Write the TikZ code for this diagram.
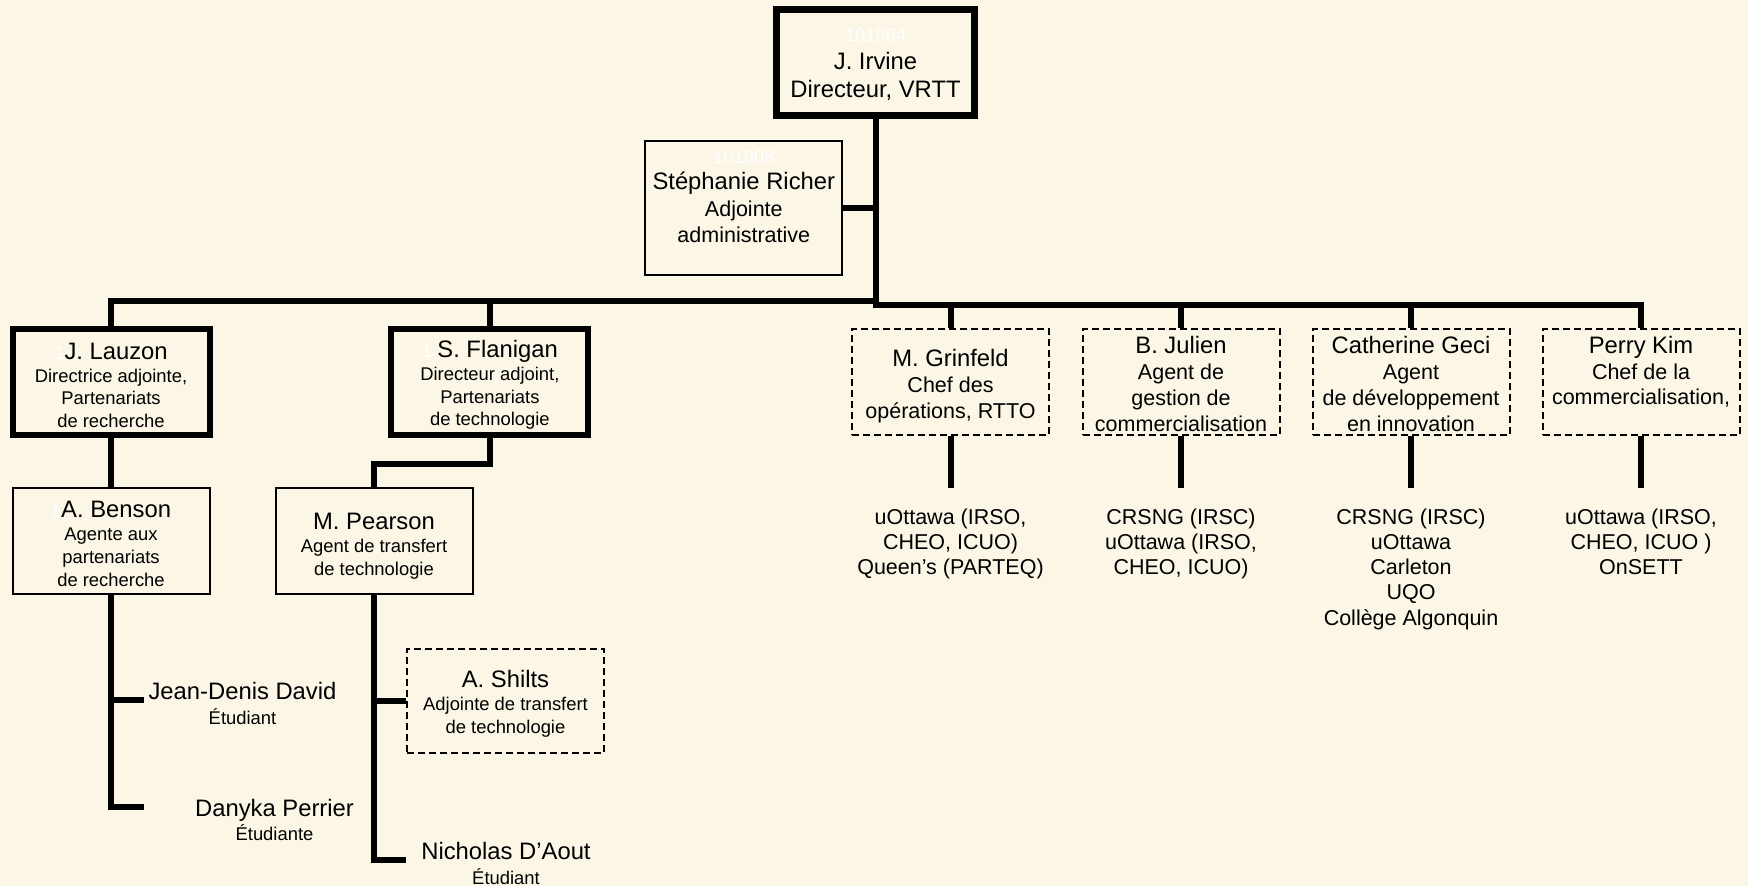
\documentclass[tikz,border=0pt]{standalone}
\usepackage{fontspec}
\setmainfont{Liberation Sans}
\usetikzlibrary{positioning}

\definecolor{paper}{RGB}{251,246,229}
\newcommand\fname{\fontsize{11.9pt}{14pt}\selectfont}
\newcommand\fsmall{\fontsize{9.2pt}{11pt}\selectfont}
\newcommand\padabove[1]{\rule{0pt}{#1}}
\newcommand\padbelow[1]{\rule[-#1]{0pt}{#1}}

\begin{document}
\begin{tikzpicture}[x=0.5pt, y=-0.5pt,
    box/.style={draw, line width=1pt, minimum width=98.5pt, minimum height=53pt, inner sep=0pt, align=center},
    lead/.style={box, line width=3pt},
    open/.style={box, dash pattern=on 3.5pt off 2pt},
    link/.style={line width=3pt},
    note/.style={inner sep=0pt, align=center}
]
    \fill[paper] (0,0) rectangle (1748,886);

    % direction
    \node[lead, line width=3.3pt, minimum width=98.8pt, minimum height=53.2pt, font=\fontsize{9.2pt}{14pt}\selectfont] (irvine) at (875.5,62.5)
        {\padabove{8.8pt}{\color{white}101864}\\ {\fname J. Irvine}\\ {\fname Directeur, VRTT}};
    \node[box, minimum height=67pt, font=\fontsize{10.75pt}{13.15pt}\selectfont] (richer) at (743.8,208)
        {\padabove{7.6pt}{\fsmall\color{white}101908}\\ {\fname Stéphanie Richer}\\ Adjointe\\ administrative\padbelow{12.7pt}};

    % partenariats
    \node[lead, font=\fontsize{9.2pt}{11.35pt}\selectfont] (lauzon) at (111,381.8)
        {\padabove{11.8pt}{\color{white}1}{\fname J. Lauzon}\\ Directrice adjointe,\\ Partenariats\\ de recherche};
    \node[lead, font=\fontsize{9.2pt}{11.35pt}\selectfont] (flanigan) at (489.9,381.8)
        {\padabove{11.8pt}{\color{white}1} {\fname S. Flanigan}\\ Directeur adjoint,\\ Partenariats\\ de technologie};
    \node[box, font=\fontsize{9.2pt}{11.4pt}\selectfont] (benson) at (111,541.3)
        {\padabove{10.7pt}{\color{white}1}{\fname A. Benson}\\ Agente aux\\ partenariats\\ de recherche};
    \node[box, font=\fontsize{9.2pt}{11.6pt}\selectfont] (pearson) at (374,541.3)
        {\padabove{13pt}{\fname M. Pearson}\\ Agent de transfert\\ de technologie};
    \node[open, minimum height=52pt, font=\fontsize{9.2pt}{11.5pt}\selectfont] (shilts) at (505.5,700.9)
        {\padabove{11.8pt}{\fname A. Shilts}\\ Adjointe de transfert\\ de technologie};

    % commercialisation
    \node[open, font=\fontsize{10.75pt}{12.9pt}\selectfont] (grinfeld) at (950.5,382)
        {\padabove{13pt}{\fname M. Grinfeld}\\ Chef des\\ opérations, RTTO};
    \node[open, font=\fontsize{10.75pt}{12.9pt}\selectfont] (julien) at (1181,382)
        {\padabove{10.7pt}{\fname B. Julien}\\ Agent de\\ gestion de\\ commercialisation};
    \node[open, font=\fontsize{10.75pt}{12.9pt}\selectfont] (geci) at (1411,382)
        {\padabove{10.7pt}{\fname Catherine Geci}\\ Agent\\ de développement\\ en innovation};
    \node[open, font=\fontsize{10.75pt}{12.65pt}\selectfont] (kim) at (1641,382)
        {{\fname Perry Kim}\\ Chef de la\\ commercialisation,\padbelow{11.5pt}};

    \node[note, inner ysep=10pt, below=26.2pt of grinfeld, font=\fontsize{10.75pt}{12.6pt}\selectfont] (grinfeld-list)
        {uOttawa (IRSO,\\ CHEO, ICUO)\\ Queen’s (PARTEQ)};
    \node[note, inner ysep=10pt, below=26.2pt of julien, font=\fontsize{10.75pt}{12.6pt}\selectfont] (julien-list)
        {CRSNG (IRSC)\\ uOttawa (IRSO,\\ CHEO, ICUO)};
    \node[note, inner ysep=10pt, below=26.2pt of geci, font=\fontsize{10.75pt}{12.6pt}\selectfont] (geci-list)
        {CRSNG (IRSC)\\ uOttawa\\ Carleton\\ UQO\\ Collège Algonquin};
    \node[note, inner ysep=10pt, below=26.2pt of kim, font=\fontsize{10.75pt}{12.6pt}\selectfont] (kim-list)
        {uOttawa (IRSO,\\ CHEO, ICUO )\\ OnSETT};

    % etudiants
    \node[note, anchor=north, font=\fontsize{9.2pt}{12.2pt}\selectfont] (david) at (242.5,682)
        {{\fname Jean-Denis David}\\ Étudiant};
    \node[note, anchor=north, font=\fontsize{9.2pt}{12.2pt}\selectfont] (perrier) at (274.5,798.7)
        {{\fname Danyka Perrier}\\ Étudiante};
    \node[note, anchor=north, font=\fontsize{9.2pt}{12.2pt}\selectfont] (daout) at (506,842)
        {{\fname Nicholas D’Aout}\\ Étudiant};

    \coordinate (bus-l) at (875.5,301.3);
    \coordinate (bus-r) at (875.5,304.7);
    \coordinate (david-tip) at (143.6,700);
    \coordinate (perrier-tip) at (143.6,806.7);
    \coordinate (daout-tip) at (406.4,860);

    % lines
    \draw[link] (irvine.south) -- (bus-r) -| (kim.north);
    \draw[link] (richer) -- (richer -| irvine);
    \draw[link] (bus-l) -| (lauzon.north);
    \draw[link] (flanigan.north) -- (flanigan.north |- bus-l);
    \draw[link] (grinfeld.north) -- (grinfeld.north |- bus-r);
    \draw[link] (julien.north) -- (julien.north |- bus-r);
    \draw[link] (geci.north) -- (geci.north |- bus-r);

    \draw[link] (lauzon) -- (benson);
    \draw[link] (benson.south) |- (david-tip);
    \draw[link] (benson.south) |- (perrier-tip);
    \draw[link] (flanigan.south) -- ++(0,26.5) -| (pearson.north);
    \draw[link] (pearson.south) |- (shilts.west);
    \draw[link] (pearson.south) |- (daout-tip);

    \draw[link] (grinfeld) -- (grinfeld-list);
    \draw[link] (julien) -- (julien-list);
    \draw[link] (geci) -- (geci-list);
    \draw[link] (kim) -- (kim-list);

\end{tikzpicture}
\end{document}
